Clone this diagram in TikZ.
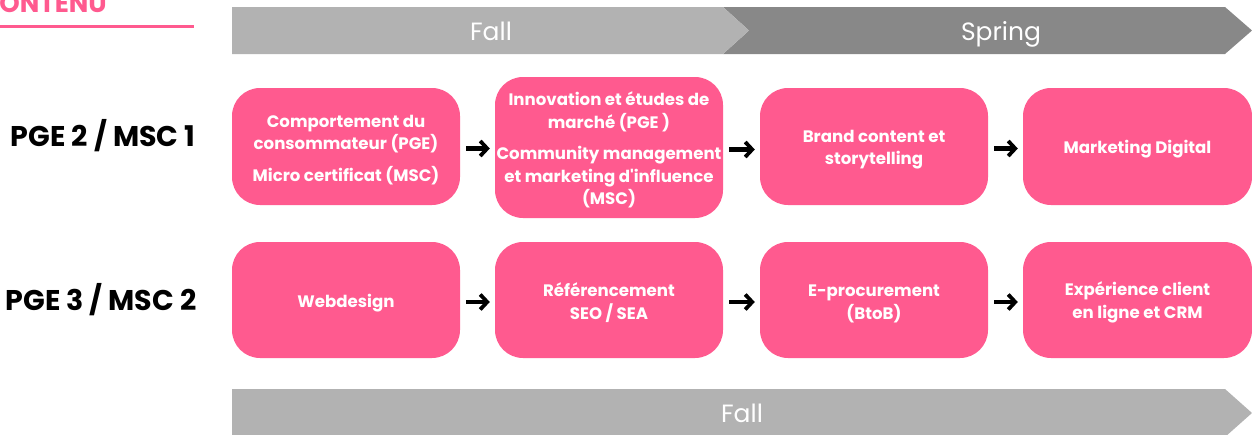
\documentclass[tikz,border=0pt]{standalone}
\usepackage{fontspec}
\setmainfont{Poppins}
\usetikzlibrary{arrows.meta}
\definecolor{pinkc}{HTML}{FF5A8F}
\definecolor{lgray}{HTML}{B2B2B2}
\definecolor{dgray}{HTML}{888888}
\newcommand{\tsr}{\rule{0pt}{19pt}}
\tikzset{
  box/.style={fill=pinkc, rounded corners=28pt, text=white, align=center,
    minimum width=228pt, minimum height=117pt, inner sep=0pt,
    font=\bfseries\fontsize{16.6}{22.5}\selectfont},
  tall/.style={minimum height=141pt},
  arr/.style={line width=4.2pt, -{Straight Barb[length=7pt, width=15pt, line width=3.8pt]}, shorten <=6pt, shorten >=5pt},
  bartext/.style={text=white, font=\fontsize{25}{30}\selectfont, inner sep=0pt, anchor=base},
  rowlabel/.style={text=black, font=\bfseries\fontsize{28.5}{32}\selectfont, inner sep=0pt},
}
\begin{document}
\begin{tikzpicture}[x=1pt, y=-1pt]
\useasboundingbox (0,0) rectangle (1252,434);
\clip (0,0) rectangle (1252,434);
% header
\node[anchor=base east, text=pinkc, font=\bfseries\fontsize{26}{30}\selectfont, inner sep=0pt] (contenu) at (107,12.5) {CONTENU};
\draw[pinkc, line width=2.6pt] (0,26.5) coordinate (ul0) -- (194,26.5) coordinate (ul1);
% top bars
\fill[dgray] (723,7) -- (1225,7) -- (1252,30.5) -- (1225,54) -- (723,54) -- (749,30.5) -- cycle;
\fill[lgray] (232,7) -- (723,7) -- (749,30.5) -- (723,54) -- (232,54) -- cycle;
\node[bartext] (fall1) at (491,40.5) {Fall};
\node[bartext] (spring) at (1001,40.5) {Spring};
% bottom bar
\fill[lgray] (232,389) -- (1225,389) -- (1252,413) -- (1225,437) -- (232,437) -- cycle;
\node[bartext] (fall2) at (742,422.5) {Fall};
% row labels
\node[rowlabel] (r1) at (103,136) {PGE 2 / MSC 1};
\node[rowlabel] (r2) at (101,300) {PGE 3 / MSC 2};
% row 1
\node[box] (a1) at (346,146.5) {\tsr Comportement du\\consommateur (PGE)\\[9pt]Micro certificat (MSC)};
\node[box, tall] (a2) at (609,147.5) {\tsr Innovation et études de\\marché (PGE )\\[9pt]Community management\\et marketing d\textquotesingle influence\\(MSC)};
\node[box] (a3) at (874,146.5) {\tsr Brand content et\\storytelling};
\node[box, minimum width=229pt] (a4) at (1137.5,146.5) {\tsr Marketing Digital};
% row 2
\node[box, minimum height=116pt] (b1) at (346,300) {\tsr Webdesign};
\node[box, minimum height=116pt] (b2) at (609,300) {\tsr Référencement\\SEO / SEA};
\node[box, minimum height=116pt] (b3) at (874,300) {\tsr E-procurement\\(BtoB)};
\node[box, minimum height=116pt, minimum width=229pt] (b4) at (1137.5,300) {\tsr Expérience client\\en ligne et CRM};
% arrows
\draw[arr] ([yshift=-2pt]a1.east) -- ([yshift=-2pt]a1.east -| a2.west);
\draw[arr] ([yshift=-2pt]a2.east) -- ([yshift=-2pt]a2.east -| a3.west);
\draw[arr] ([yshift=-2pt]a3.east) -- ([yshift=-2pt]a3.east -| a4.west);
\draw[arr] ([yshift=-2pt]b1.east) -- ([yshift=-2pt]b1.east -| b2.west);
\draw[arr] ([yshift=-2pt]b2.east) -- ([yshift=-2pt]b2.east -| b3.west);
\draw[arr] ([yshift=-2pt]b3.east) -- ([yshift=-2pt]b3.east -| b4.west);
\end{tikzpicture}
\end{document}
